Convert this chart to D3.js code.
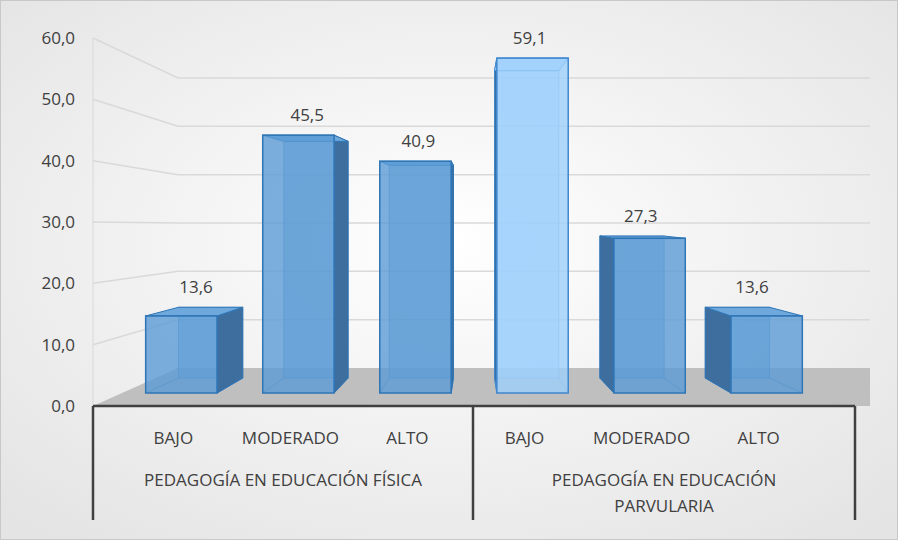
<!DOCTYPE html>
<html><head><meta charset="utf-8">
<script src="https://cdn.jsdelivr.net/npm/d3@7"></script>
<style>body{margin:0;background:#fff}text{font-family:"Open Sans","Noto Sans",sans-serif;fill:#404040}</style>
</head><body>
<script>
// data
const groups = ['PEDAGOGÍA EN EDUCACIÓN FÍSICA', 'PEDAGOGÍA EN EDUCACIÓN|PARVULARIA'];
const levels = ['BAJO', 'MODERADO', 'ALTO'];
const values = [13.6, 45.5, 40.9, 59.1, 27.3, 13.6];
const ticks = [0, 10, 20, 30, 40, 50, 60];

const W = 898, H = 540;
const svg = d3.select('body').append('svg').attr('width', W).attr('height', H);

const defs = svg.append('defs');
const bg = defs.append('radialGradient').attr('id', 'bg').attr('cx', '50%').attr('cy', '45%').attr('r', '70%');
bg.append('stop').attr('offset', '0%').attr('stop-color', '#ffffff');
bg.append('stop').attr('offset', '100%').attr('stop-color', '#e4e4e4');
svg.append('rect').attr('x', 0.5).attr('y', 0.5).attr('width', W - 1).attr('height', H - 1)
  .attr('fill', 'url(#bg)').attr('stroke', '#c8c8c8');

// scales
const yLeft = d3.scaleLinear().domain([0, 60]).range([406, 38]);
const yWall = d3.scaleLinear().domain([0, 60]).range([368, 78]);
const yFront = d3.scaleLinear().domain([0, 60]).range([393, 53]);
const yBack = d3.scaleLinear().domain([0, 60]).range([378, 66]);
const keys = d3.range(values.length);
const x = d3.scaleBand().domain(keys).range([93, 855]).paddingInner(0.39).paddingOuter(0.45);
const VX = 474, S = 0.9;
const bx = v => VX + (v - VX) * S;

// floor
svg.append('polygon').attr('points', [[93, 406], [178, 368], [870, 368], [870, 406]].join(' '))
  .attr('fill', '#bfbfbf');

// gridlines
ticks.slice(1).forEach(t => {
  svg.append('polyline').attr('points', [[93, yLeft(t)], [178, yWall(t)], [870, yWall(t)]].join(' '))
    .attr('fill', 'none').attr('stroke', '#d9d9d9').attr('stroke-width', 1.5);
});
svg.append('line').attr('x1', 93).attr('x2', 93).attr('y1', 38).attr('y2', 406).attr('stroke', '#d9d9d9');

svg.selectAll('.tick').data(ticks).join('text')
  .attr('x', 75).attr('y', d => yLeft(d) + 6).attr('text-anchor', 'end')
  .attr('font-size', 17).text(d => d.toFixed(1).replace('.', ','));

// bars
keys.forEach(i => {
  const v = values[i];
  const x0 = x(i), x1 = x(i) + x.bandwidth();
  const fb = yFront(0), ft = yFront(v), bb = yBack(0), bt = yBack(v);
  const light = i === 3;
  const face = light ? '#9dd0fb' : '#5b9bd5';
  const edge = light ? '#3f87cf' : '#2e75b6';
  const g = svg.append('g');
  const cx = (x0 + x1) / 2;
  // back face
  g.append('rect').attr('x', bx(x0)).attr('y', bt).attr('width', bx(x1) - bx(x0)).attr('height', bb - bt)
    .attr('fill', face).attr('fill-opacity', 0.5).attr('stroke', edge).attr('stroke-opacity', 0.5);
  // side face
  if (cx < VX - 20) {
    g.append('polygon').attr('points', [[x1, ft], [bx(x1), bt], [bx(x1), bb], [x1, fb]].join(' '))
      .attr('fill', '#3d6e9e').attr('stroke', edge);
  } else if (cx > VX + 20) {
    g.append('polygon').attr('points', [[x0, ft], [bx(x0), bt], [bx(x0), bb], [x0, fb]].join(' '))
      .attr('fill', '#3d6e9e').attr('stroke', edge);
  }
  // top
  g.append('polygon').attr('points', [[x0, ft], [bx(x0), bt], [bx(x1), bt], [x1, ft]].join(' '))
    .attr('fill', light ? '#b7dcfc' : '#6ea8dc').attr('stroke', edge);
  g.append('line').attr('x1', x0).attr('y1', fb).attr('x2', bx(x0)).attr('y2', bb).attr('stroke', edge).attr('stroke-opacity', 0.6);
  g.append('line').attr('x1', x1).attr('y1', fb).attr('x2', bx(x1)).attr('y2', bb).attr('stroke', edge).attr('stroke-opacity', 0.6);
  // front
  g.append('rect').attr('x', x0).attr('y', ft).attr('width', x1 - x0).attr('height', fb - ft)
    .attr('fill', face).attr('fill-opacity', 0.8).attr('stroke', edge).attr('stroke-width', 1.5);
  svg.append('text').attr('x', (bx(x0) + bx(x1) + x0 + x1) / 4).attr('y', Math.min(ft, bt) - 14)
    .attr('text-anchor', 'middle').attr('font-size', 17).text(v.toFixed(1).replace('.', ','));
});

// category axis
const ax = svg.append('g').attr('stroke', '#404040').attr('stroke-width', 2.5);
ax.append('line').attr('x1', 93).attr('x2', 855).attr('y1', 406).attr('y2', 406);
[93, 473, 855].forEach(v => ax.append('line').attr('x1', v).attr('x2', v).attr('y1', 406).attr('y2', 520));
keys.forEach(i => {
  svg.append('text').attr('x', x(i) + x.bandwidth() / 2 - 8).attr('y', 444)
    .attr('text-anchor', 'middle').attr('font-size', 17).text(levels[i % 3]);
});
groups.forEach((gName, j) => {
  const cx = j === 0 ? 283 : 664;
  gName.split('|').forEach((ln, k) => {
    svg.append('text').attr('x', cx).attr('y', 486 + k * 26).attr('text-anchor', 'middle')
      .attr('font-size', 17).text(ln);
  });
});
</script>
</body></html>
